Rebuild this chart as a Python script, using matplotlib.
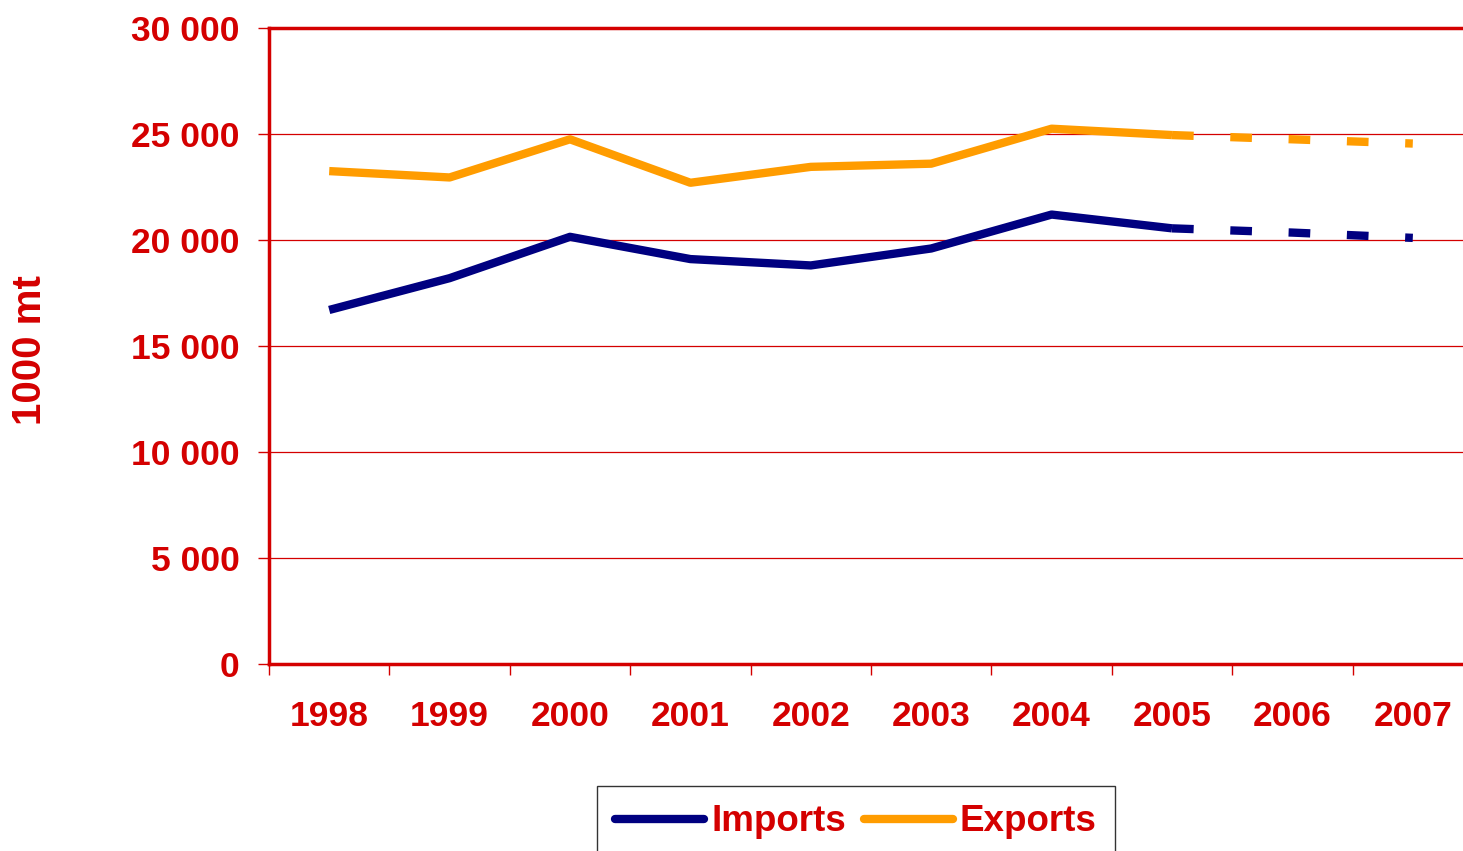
import numpy as np
import matplotlib
matplotlib.use("Agg")
import matplotlib.pyplot as plt

years = ["1998", "1999", "2000", "2001", "2002", "2003", "2004", "2005", "2006", "2007"]
imports = [16700, 18200, 20150, 19100, 18800, 19600, 21200, 20550, 20350, 20100]
exports = [23250, 22950, 24750, 22700, 23450, 23600, 25250, 24950, 24750, 24550]
n_actual = 8  # 1998-2005 solid, afterwards forecast (dashed)

RED = "#d40000"
NAVY = "#000080"
ORANGE = "#ff9c00"

plt.rcParams["font.family"] = ["Liberation Sans", "DejaVu Sans"]
plt.rcParams["font.weight"] = "bold"

fig = plt.figure(figsize=(14.63, 8.51), dpi=100)
ax = fig.add_axes([269 / 1463, 1 - 664 / 851, 1204 / 1463, 636 / 851])

x = np.arange(len(years))
for vals, col, name in [(imports, NAVY, "Imports"), (exports, ORANGE, "Exports")]:
    ax.plot(x[:n_actual], vals[:n_actual], color=col, lw=6, solid_capstyle="butt", label=name)
    ax.plot(x[n_actual - 1:], vals[n_actual - 1:], color=col, lw=6,
            dashes=(2.6, 4.4), dash_capstyle="butt")

ax.set_xlim(-0.5, len(years) - 0.5)
ax.set_ylim(0, 30000)
ax.set_yticks(np.arange(0, 30001, 5000))
ax.set_yticklabels([f"{v:,}".replace(",", " ") for v in range(0, 30001, 5000)])
ax.set_xticks(x)
ax.set_xticklabels(years)
ax.set_xticks(np.arange(-0.5, len(years), 1), minor=True)
ax.tick_params(axis="x", which="major", length=0, pad=26)
ax.tick_params(axis="x", which="minor", length=8, width=1, color=RED)
ax.tick_params(axis="y", length=8, width=1, color=RED, pad=13)
for lab in ax.get_xticklabels() + ax.get_yticklabels():
    lab.set_color(RED)
    lab.set_fontsize(25.5)
    lab.set_fontweight("bold")

ax.grid(axis="y", color=RED, lw=0.9)
ax.set_axisbelow(True)
for s in ["left", "bottom", "top"]:
    ax.spines[s].set_color(RED)
    ax.spines[s].set_linewidth(2.5)
ax.spines["right"].set_visible(False)

fig.text(30 / 1463, 1 - 350 / 851, "1000 mt", rotation=90, color=RED,
         fontsize=29, fontweight="bold", ha="center", va="center")

leg = fig.legend(loc="upper left", bbox_to_anchor=(597 / 1463, 1 - 786 / 851),
                 ncol=2, fontsize=26.5, frameon=True, fancybox=False,
                 handlelength=2.4, handletextpad=0.2, columnspacing=0.5,
                 borderpad=0.5, borderaxespad=0)
leg.get_frame().set_edgecolor("black")
leg.get_frame().set_linewidth(1)
for t in leg.get_texts():
    t.set_color(RED)
for h in leg.get_lines():
    h.set_linewidth(6)
    h.set_solid_capstyle("round")

fig.savefig("out.png", dpi=100)
